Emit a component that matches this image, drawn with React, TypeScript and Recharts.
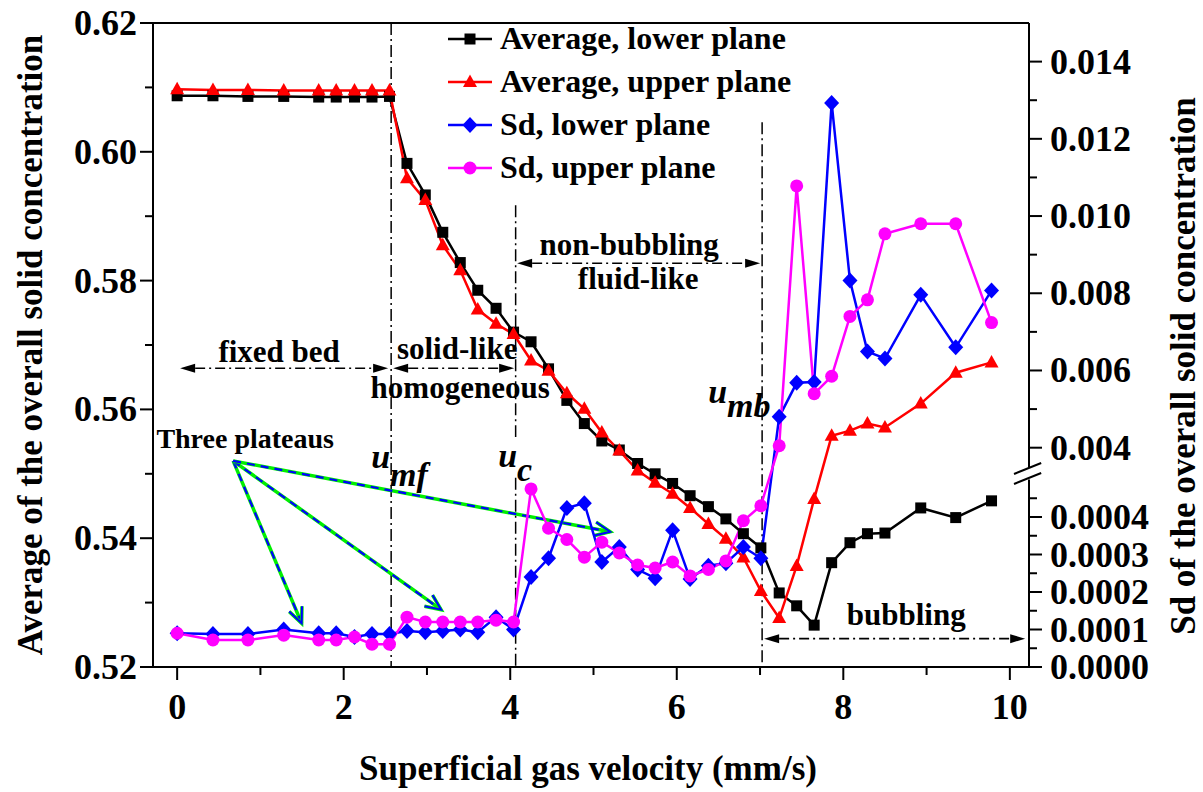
import React from "react";
import {
  Legend,
  Line,
  LineChart,
  ReferenceDot,
  ReferenceLine,
  XAxis,
  YAxis,
} from "recharts";

const FONT = '"Liberation Serif", "Times New Roman", Times, serif';

// superficial gas velocity, mm/s
const VELOCITY = [
  0, 0.43, 0.85, 1.28, 1.7, 1.91, 2.13, 2.34, 2.55, 2.76, 2.98, 3.19, 3.4,
  3.61, 3.83, 4.04, 4.25, 4.46, 4.68, 4.89, 5.1, 5.31, 5.53, 5.74, 5.95, 6.16,
  6.38, 6.59, 6.8, 7.01, 7.23, 7.44, 7.65, 7.86, 8.08, 8.29, 8.5, 8.93, 9.35,
  9.78,
];

// average of the overall solid concentration (left axis)
const AVG_LOWER = [
  0.6087, 0.6087, 0.6086, 0.6086, 0.6085, 0.6085, 0.6085, 0.6085, 0.6086,
  0.5982, 0.5933, 0.5875, 0.5828, 0.5785, 0.5757, 0.572, 0.5705, 0.5663,
  0.5614, 0.5578, 0.5551, 0.5537, 0.5516, 0.55, 0.5485, 0.5466, 0.5449, 0.543,
  0.5407, 0.5385, 0.5315, 0.5295, 0.5265, 0.5362, 0.5393, 0.5407, 0.5408,
  0.5447, 0.5432, 0.5458,
];
const AVG_UPPER = [
  0.6097, 0.6096, 0.6096, 0.6095, 0.6095, 0.6095, 0.6095, 0.6095, 0.6095,
  0.5959, 0.5925, 0.5855, 0.5816, 0.5755, 0.5733, 0.5717, 0.5676, 0.566,
  0.5625, 0.5601, 0.5564, 0.5536, 0.5505, 0.5486, 0.5469, 0.5447, 0.5422,
  0.5399, 0.537, 0.5318, 0.5276, 0.5357, 0.5461, 0.5559, 0.5567, 0.5578,
  0.5572, 0.5609, 0.5657, 0.5673,
];

// standard deviation (right, broken axis)
const SD_LOWER = [
  0.00009, 0.000088, 0.000088, 0.0001, 0.00009, 0.00009, 0.00008, 0.000088,
  0.000088, 0.000096, 0.000093, 0.000096, 0.0001, 0.000093, 0.000133, 0.0001,
  0.00024, 0.00029, 0.000424, 0.000437, 0.00028, 0.00032, 0.00026, 0.000237,
  0.000365, 0.000235, 0.00027, 0.000277, 0.00032, 0.00029, 0.0048, 0.00568,
  0.0057, 0.01293, 0.00833, 0.00649, 0.00631, 0.00796, 0.0066, 0.00807,
];
const SD_UPPER = [
  0.00009, 0.000072, 0.000072, 0.000085, 0.000072, 0.000072, 0.00008,
  0.000061, 0.000061, 0.000133, 0.00012, 0.00012, 0.00012, 0.00012, 0.000125,
  0.00012, 0.000475, 0.00037, 0.00034, 0.000293, 0.000333, 0.000304,
  0.000272, 0.000264, 0.00028, 0.000243, 0.00026, 0.000283, 0.00039, 0.00043,
  0.00405, 0.01078, 0.0054, 0.00585, 0.0074, 0.00783, 0.00954, 0.0098, 0.0098,
  0.00724,
];

const X_MAJOR = [0, 2, 4, 6, 8, 10];
const X_MINOR = [1, 3, 5, 7, 9];
const LEFT_MAJOR = [0.52, 0.54, 0.56, 0.58, 0.6, 0.62];
const LEFT_MINOR = [0.53, 0.55, 0.57, 0.59, 0.61];
const SD_MAJOR_LOW = [0, 0.0001, 0.0002, 0.0003, 0.0004];
const SD_MINOR_LOW = [0.00005, 0.00015, 0.00025, 0.00035, 0.00045];
const SD_MAJOR_HIGH = [0.004, 0.006, 0.008, 0.01, 0.012, 0.014];
const SD_MINOR_HIGH = [0.005, 0.007, 0.009, 0.011, 0.013];

const X_MIN = -0.29;
const X_MAX = 10.23;

// broken right axis: 0..0.0005 below the break, 0.0035..0.015 above it
const LOW_TOP = 0.0005;
const HIGH_BOTTOM = 0.0035;
const HIGH_TOP = 0.015;
const LOW_SPAN = 187.5;
const GAP = 12.5;
const HIGH_SPAN = 444;
const RIGHT_MAX = LOW_SPAN + GAP + HIGH_SPAN;
const sdToAxis = (v: number) =>
  v <= LOW_TOP
    ? (v / LOW_TOP) * LOW_SPAN
    : LOW_SPAN + GAP + ((v - HIGH_BOTTOM) / (HIGH_TOP - HIGH_BOTTOM)) * HIGH_SPAN;

const RIGHT_TICKS = [
  ...SD_MAJOR_LOW.map((v) => ({ pos: sdToAxis(v), label: v.toFixed(4) })),
  ...SD_MINOR_LOW.map((v) => ({ pos: sdToAxis(v), label: "" })),
  ...SD_MAJOR_HIGH.map((v) => ({ pos: sdToAxis(v), label: v.toFixed(3) })),
  ...SD_MINOR_HIGH.map((v) => ({ pos: sdToAxis(v), label: "" })),
];

const SERIES = [
  { key: "avgLower", name: "Average, lower plane", color: "#000000", axis: "left", marker: "square" },
  { key: "avgUpper", name: "Average, upper plane", color: "#ff0000", axis: "left", marker: "triangle" },
  { key: "sdLower", name: "Sd, lower plane", color: "#0000ff", axis: "right", marker: "diamond" },
  { key: "sdUpper", name: "Sd, upper plane", color: "#ff00ff", axis: "right", marker: "circle" },
];

function Marker({ kind, cx, cy, color }: { kind: string; cx: number; cy: number; color: string }) {
  if (kind === "square")
    return <rect x={cx - 5.5} y={cy - 5.5} width={11} height={11} fill={color} />;
  if (kind === "triangle")
    return (
      <polygon
        points={`${cx},${cy - 7.5} ${cx - 7},${cy + 5} ${cx + 7},${cy + 5}`}
        fill={color}
      />
    );
  if (kind === "diamond")
    return (
      <polygon
        points={`${cx},${cy - 8} ${cx + 7.5},${cy} ${cx},${cy + 8} ${cx - 7.5},${cy}`}
        fill={color}
      />
    );
  return <circle cx={cx} cy={cy} r={6.5} fill={color} />;
}

const bold = { fontFamily: FONT, fontWeight: "bold" as const };

const near = (list: number[], v: number) => list.some((t) => Math.abs(t - v) < 1e-9);

function renderXTick(p: any) {
  const val = p.payload.value;
  const major = near(X_MAJOR, val);
  return (
    <g>
      <line x1={p.x} x2={p.x} y1={p.y} y2={p.y + (major ? 13 : 8)} stroke="#000" strokeWidth={2} />
      {major && (
        <text x={p.x} y={p.y + 52} textAnchor="middle" fontSize={36} {...bold}>
          {val}
        </text>
      )}
    </g>
  );
}

function renderLeftTick(p: any) {
  const val = p.payload.value;
  const major = near(LEFT_MAJOR, val);
  return (
    <g>
      <line x1={p.x} x2={p.x - (major ? 13 : 8)} y1={p.y} y2={p.y} stroke="#000" strokeWidth={2} />
      {major && (
        <text x={p.x - 16} y={p.y + 12} textAnchor="end" fontSize={36} {...bold}>
          {val.toFixed(2)}
        </text>
      )}
    </g>
  );
}

function renderRightTick(p: any) {
  const t = RIGHT_TICKS.find((r) => Math.abs(r.pos - p.payload.value) < 1e-6);
  const major = !!t && t.label !== "";
  return (
    <g>
      <line x1={p.x} x2={p.x + (major ? 13 : 8)} y1={p.y} y2={p.y} stroke="#000" strokeWidth={2} />
      {major && (
        <text x={p.x + 21} y={p.y + 12} textAnchor="start" fontSize={36} {...bold}>
          {t!.label}
        </text>
      )}
    </g>
  );
}

const xTitle = (p: any) => {
  const vb = p.viewBox;
  return (
    <text x={vb.x + vb.width / 2 - 3} y={vb.y + 113} textAnchor="middle" fontSize={35} {...bold}>
      Superficial gas velocity (mm/s)
    </text>
  );
};

const leftTitle = (p: any) => {
  const vb = p.viewBox;
  const cx = vb.x - 33;
  const cy = vb.y + vb.height / 2;
  return (
    <text x={cx} y={cy} transform={`rotate(-90 ${cx} ${cy})`} textAnchor="middle" dominantBaseline="central" fontSize={35} {...bold}>
      Average of the overall solid concentration
    </text>
  );
};

const rightTitle = (p: any) => {
  const vb = p.viewBox;
  const cx = vb.x + 154;
  const cy = 366;
  return (
    <text x={cx} y={cy} transform={`rotate(-90 ${cx} ${cy})`} textAnchor="middle" dominantBaseline="central" fontSize={35} {...bold}>
      Sd of the overall solid concentration
    </text>
  );
};

const dashDotArrow = (p: any) => {
  const { x1, y1, x2, y2 } = p;
  const L = 15;
  const W = 4.5;
  return (
    <g>
      <line x1={x1 + L} y1={y1} x2={x2 - L} y2={y2} stroke="#000" strokeWidth={1.6} strokeDasharray="10 4 2 4" />
      <polygon points={`${x1},${y1} ${x1 + L},${y1 - W} ${x1 + L},${y1 + W}`} fill="#000" />
      <polygon points={`${x2},${y2} ${x2 - L},${y2 - W} ${x2 - L},${y2 + W}`} fill="#000" />
    </g>
  );
};

const plateauArrow = (p: any) => {
  const { x1, y1, x2, y2 } = p;
  const ang = Math.atan2(y2 - y1, x2 - x1);
  const L = 17;
  const s = 0.42;
  const head = `M${x2 - L * Math.cos(ang - s)},${y2 - L * Math.sin(ang - s)} L${x2},${y2} L${x2 - L * Math.cos(ang + s)},${y2 - L * Math.sin(ang + s)}`;
  return (
    <g fill="none">
      <line x1={x1} y1={y1} x2={x2} y2={y2} stroke="#00ee00" strokeWidth={3.5} />
      <line x1={x1} y1={y1} x2={x2} y2={y2} stroke="#0000ff" strokeWidth={2.2} strokeDasharray="8 6" />
      <path d={head} stroke="#00ee00" strokeWidth={3.5} />
      <path d={head} stroke="#0000ff" strokeWidth={2} />
    </g>
  );
};

const NOTES = [
  { text: "fixed bed", x: 1.225, y: 0.5674, size: 31 },
  { text: "solid-like", x: 3.363, y: 0.5679, size: 31 },
  { text: "homogeneous", x: 3.399, y: 0.5618, size: 31 },
  { text: "non-bubbling", x: 5.428, y: 0.584, size: 31 },
  { text: "fluid-like", x: 5.536, y: 0.5787, size: 31 },
  { text: "bubbling", x: 8.755, y: 0.5265, size: 31 },
  { text: "Three plateaus", x: 0.817, y: 0.554, size: 28 },
];

const VELOCITY_MARKS = [
  { main: "u", sub: "mf", x: 2.33, y: 0.5509, dy: 18 },
  { main: "u", sub: "c", x: 3.855, y: 0.5511, dy: 14 },
  { main: "u", sub: "mb", x: 6.377, y: 0.561, dy: 14 },
];

const REGION_ARROWS = [
  { x1: 0.036, x2: 2.534, y: 0.5664 },
  { x1: 2.594, x2: 4.047, y: 0.5664 },
  { x1: 4.083, x2: 7.001, y: 0.5827 },
  { x1: 7.049, x2: 10.184, y: 0.5244 },
];

const DIVIDERS = [
  { x: 2.57, y1: 0.62, y2: 0.52 },
  { x: 4.065, y1: 0.5917, y2: 0.5557 },
  { x: 4.065, y1: 0.5494, y2: 0.52 },
  { x: 7.025, y1: 0.6046, y2: 0.52 },
];

const PLATEAU_ORIGIN = { x: 0.6725, y: 0.552 };
const PLATEAU_TIPS = [
  { x: 1.495, y: 0.5268 },
  { x: 3.17, y: 0.5289 },
  { x: 5.2, y: 0.541 },
];

const renderLegend = () => (
  <div style={{ ...bold, fontSize: 32, lineHeight: "43px" }}>
    {SERIES.map((s) => (
      <div key={s.key} style={{ display: "flex", alignItems: "center", height: 43, whiteSpace: "nowrap" }}>
        <svg width={52} height={24}>
          <line x1={0} x2={44} y1={12} y2={12} stroke={s.color} strokeWidth={2.5} />
          <Marker kind={s.marker} cx={22} cy={12} color={s.color} />
        </svg>
        <span>{s.name}</span>
      </div>
    ))}
  </div>
);

export default function App() {
  const data = VELOCITY.map((v, i) => ({
    v,
    avgLower: AVG_LOWER[i],
    avgUpper: AVG_UPPER[i],
    sdLower: sdToAxis(SD_LOWER[i]),
    sdUpper: sdToAxis(SD_UPPER[i]),
  }));

  return (
    <div style={{ position: "absolute", left: 0, top: 0, width: 1203, height: 792, background: "#fff" }}>
      <LineChart width={1203} height={792} data={data} margin={{ top: 23, right: 4, bottom: 25, left: 63 }}>
        <XAxis
          dataKey="v"
          type="number"
          domain={[X_MIN, X_MAX]}
          allowDataOverflow
          ticks={[...X_MAJOR, ...X_MINOR]}
          interval={0}
          tickSize={0}
          tickMargin={0}
          tickLine={false}
          tick={renderXTick}
          height={100}
          axisLine={{ stroke: "#000", strokeWidth: 2 }}
          label={xTitle}
        />
        <YAxis
          yAxisId="left"
          domain={[0.52, 0.62]}
          allowDataOverflow
          ticks={[...LEFT_MAJOR, ...LEFT_MINOR]}
          interval={0}
          tickSize={0}
          tickMargin={0}
          tickLine={false}
          tick={renderLeftTick}
          width={90}
          axisLine={{ stroke: "#000", strokeWidth: 2 }}
          label={leftTitle}
        />
        <YAxis
          yAxisId="right"
          orientation="right"
          domain={[0, RIGHT_MAX]}
          allowDataOverflow
          ticks={RIGHT_TICKS.map((t) => t.pos)}
          interval={0}
          tickSize={0}
          tickMargin={0}
          tickLine={false}
          tick={renderRightTick}
          width={170}
          axisLine={false}
          label={rightTitle}
        />

        {/* frame: top edge and the broken right axis */}
        <ReferenceLine yAxisId="left" y={0.62} stroke="#000" strokeWidth={2} />
        <ReferenceLine
          yAxisId="right"
          ifOverflow="visible"
          segment={[{ x: X_MAX, y: 0 }, { x: X_MAX, y: LOW_SPAN }]}
          stroke="#000"
          strokeWidth={2}
        />
        <ReferenceLine
          yAxisId="right"
          ifOverflow="visible"
          segment={[{ x: X_MAX, y: LOW_SPAN + GAP }, { x: X_MAX, y: RIGHT_MAX }]}
          stroke="#000"
          strokeWidth={2}
        />
        <ReferenceLine
          yAxisId="right"
          ifOverflow="visible"
          segment={[{ x: 10.05, y: 193 }, { x: 10.376, y: 204 }]}
          stroke="#000"
          strokeWidth={2}
        />
        <ReferenceLine
          yAxisId="right"
          ifOverflow="visible"
          segment={[{ x: 10.05, y: 183 }, { x: 10.376, y: 194 }]}
          stroke="#000"
          strokeWidth={2}
        />

        {DIVIDERS.map((d, i) => (
          <ReferenceLine
            key={`div${i}`}
            yAxisId="left"
            ifOverflow="visible"
            segment={[{ x: d.x, y: d.y1 }, { x: d.x, y: d.y2 }]}
            stroke="#000"
            strokeWidth={1.5}
            strokeDasharray="12 4 2 4"
          />
        ))}

        {REGION_ARROWS.map((a, i) => (
          <ReferenceLine
            key={`reg${i}`}
            yAxisId="left"
            ifOverflow="visible"
            segment={[{ x: a.x1, y: a.y }, { x: a.x2, y: a.y }]}
            shape={dashDotArrow}
          />
        ))}

        {PLATEAU_TIPS.map((t, i) => (
          <ReferenceLine
            key={`pl${i}`}
            yAxisId="left"
            ifOverflow="visible"
            segment={[{ x: PLATEAU_ORIGIN.x, y: PLATEAU_ORIGIN.y }, { x: t.x, y: t.y }]}
            shape={plateauArrow}
          />
        ))}

        {SERIES.map((s) => (
          <Line
            key={s.key}
            yAxisId={s.axis}
            dataKey={s.key}
            name={s.name}
            type="linear"
            stroke={s.color}
            strokeWidth={2.5}
            isAnimationActive={false}
            activeDot={false}
            dot={(p: any) => (
              <Marker key={`${s.key}${p.index}`} kind={s.marker} cx={p.cx} cy={p.cy} color={s.color} />
            )}
          />
        ))}

        {NOTES.map((n) => (
          <ReferenceDot
            key={n.text}
            yAxisId="left"
            x={n.x}
            y={n.y}
            ifOverflow="visible"
            shape={(p: any) => (
              <text x={p.cx} y={p.cy} textAnchor="middle" fontSize={n.size} {...bold}>
                {n.text}
              </text>
            )}
          />
        ))}

        {VELOCITY_MARKS.map((m) => (
          <ReferenceDot
            key={m.sub}
            yAxisId="left"
            x={m.x}
            y={m.y}
            ifOverflow="visible"
            shape={(p: any) => (
              <text x={p.cx} y={p.cy} fontSize={34} fontStyle="italic" {...bold}>
                {m.main}
                <tspan dy={m.dy}>{m.sub}</tspan>
              </text>
            )}
          />
        ))}

        <Legend
          layout="vertical"
          align="center"
          verticalAlign="middle"
          content={renderLegend}
          wrapperStyle={{ left: 448, top: 17, width: 420 }}
        />
      </LineChart>
    </div>
  );
}
